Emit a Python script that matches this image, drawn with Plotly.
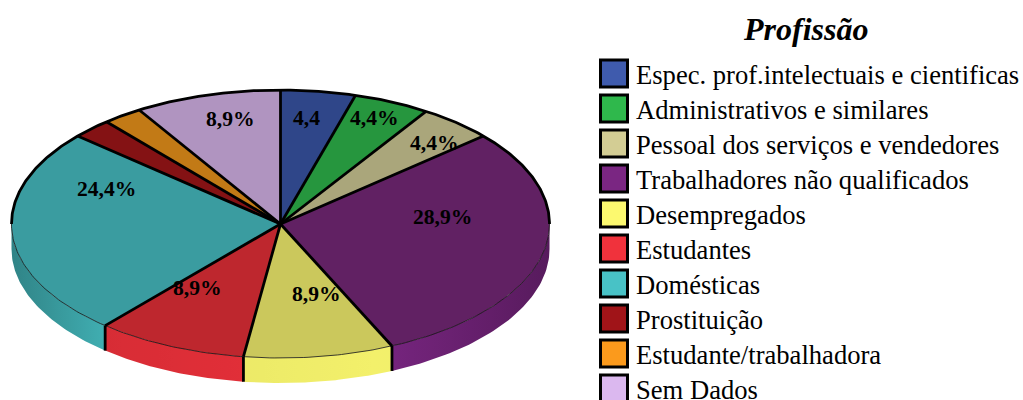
import numpy as np
import plotly.graph_objects as go

# ---- data ----
categories = ["Espec. prof.intelectuais e cientificas", "Administrativos e similares",
              "Pessoal dos serviços e vendedores", "Trabalhadores não qualificados",
              "Desempregados", "Estudantes", "Domésticas", "Prostituição",
              "Estudante/trabalhadora", "Sem Dados"]
values = [4.5, 4.6, 4.5, 29.6, 9.0, 9.1, 25.1, 2.4, 2.4, 8.8]
slice_labels = ["4,4", "4,4%", "4,4%", "28,9%", "8,9%", "8,9%", "24,4%", "", "", "8,9%"]
title_text = "Profissão"

# ---- styles ----
top_colors = ["#2f4689", "#26963e", "#aaa67b", "#612163", "#cbc85c",
              "#be272e", "#3a9ca0", "#841214", "#c27a16", "#b094c0"]
key_colors = [(63, 91, 173), (47, 184, 76), (211, 205, 148), (122, 38, 130), (252, 249, 111),
              (240, 50, 60), (72, 194, 198), (160, 20, 24), (251, 154, 28), (219, 184, 239)]
label_xy = [(306, 118), (374.5, 118), (434, 143), (442.5, 217), (316.5, 294),
            (197, 288), (106.5, 189), None, None, (230.5, 119)]
CX, CY, RX, RY, DEPTH = 280.5, 224, 269, 134, 25
FONT = "Liberation Serif"


def px(t):
    return CX + RX * np.sin(t)


def py(t):
    return CY - RY * np.cos(t)


def shade(x):
    return float(np.interp((x - CX) / RX, [-1, -0.65, -0.15, 0.4, 1], [0.68, 0.9, 0.94, 0.97, 0.72]))


fig = go.Figure()
edges = np.concatenate([[0], np.cumsum(values)]) / sum(values) * 2 * np.pi

# extruded side of the disc, only the front half can be seen
for i in range(len(values)):
    a, b = max(edges[i], np.pi / 2), min(edges[i + 1], 3 * np.pi / 2)
    if b <= a:
        continue
    t = np.linspace(a, b, 60)
    xs = np.concatenate([px(t), px(t[::-1])])
    ys = np.concatenate([py(t), py(t[::-1]) + DEPTH])
    x0, x1 = float(xs.min()), float(xs.max())
    stops = []
    for u in np.linspace(0, 1, 9):
        f = shade(x0 + (x1 - x0) * u)
        r, g, bl = [int(c * f) for c in key_colors[i]]
        stops.append([float(u), f"rgb({r},{g},{bl})"])
    fig.add_trace(go.Scatter(x=xs, y=ys, mode="lines", fill="toself", line=dict(width=0),
                             fillgradient=dict(type="horizontal", colorscale=stops, start=x0, stop=x1),
                             hoverinfo="skip", showlegend=False))

# slice faces
for i in range(len(values)):
    t = np.linspace(edges[i], edges[i + 1], 80)
    fig.add_trace(go.Scatter(x=np.r_[CX, px(t), CX], y=np.r_[CY, py(t), CY], mode="lines",
                             fill="toself", fillcolor=top_colors[i], line=dict(width=0),
                             name=categories[i], hoverinfo="name", showlegend=False))

# thin rim on the front half, heavy rim on the back half
t = np.linspace(np.pi / 2, 3 * np.pi / 2, 200)
fig.add_trace(go.Scatter(x=px(t), y=py(t), mode="lines", line=dict(color="#111", width=0.8),
                         hoverinfo="skip", showlegend=False))
t = np.linspace(-np.pi / 2, np.pi / 2, 300)
fig.add_trace(go.Scatter(x=px(t), y=py(t), mode="lines", line=dict(color="#000", width=2.8),
                         hoverinfo="skip", showlegend=False))

# dividing lines between slices and their drop down the side
for e in edges[:-1]:
    fig.add_trace(go.Scatter(x=[CX, px(e)], y=[CY, py(e)], mode="lines",
                             line=dict(color="#000", width=2.8), hoverinfo="skip", showlegend=False))
    if np.pi / 2 < e < 3 * np.pi / 2:
        fig.add_trace(go.Scatter(x=[px(e), px(e)], y=[py(e), py(e) + DEPTH], mode="lines",
                                 line=dict(color="#000", width=2.8), hoverinfo="skip", showlegend=False))

# key
key_y = [73.5 + 35 * k for k in range(len(categories))]
key_y[-1] = 388.5
fig.add_trace(go.Scatter(
    x=[614] * len(categories), y=key_y, mode="markers",
    marker=dict(symbol="square", size=27, color=[f"rgb{c}" for c in key_colors],
                line=dict(color="#000", width=3)),
    hovertext=categories, hoverinfo="text", showlegend=False, cliponaxis=False))

annotations = []
for (pos, txt) in zip(label_xy, slice_labels):
    if pos:
        annotations.append(dict(x=pos[0], y=pos[1], text=f"<b>{txt}</b>", showarrow=False,
                                font=dict(family=FONT, size=21.6, color="#000")))
for name, y in zip(categories, key_y):
    annotations.append(dict(x=634.3, y=y + 1, text=name, showarrow=False, xanchor="left",
                            font=dict(family=FONT, size=26.6, color="#000")))
annotations.append(dict(x=805, y=29, text=f"<b><i>{title_text}</i></b>", showarrow=False,
                        font=dict(family=FONT, size=32, color="#000")))

fig.update_layout(
    width=1023, height=400, margin=dict(l=0, r=0, t=0, b=0),
    paper_bgcolor="white", plot_bgcolor="white", annotations=annotations,
    xaxis=dict(range=[0, 1023], visible=False, fixedrange=True),
    yaxis=dict(range=[400, 0], visible=False, fixedrange=True),
)
fig.write_html("out.html", config={"displayModeBar": False},
               post_script="document.body.style.margin='0';document.documentElement.style.overflow='hidden';")
